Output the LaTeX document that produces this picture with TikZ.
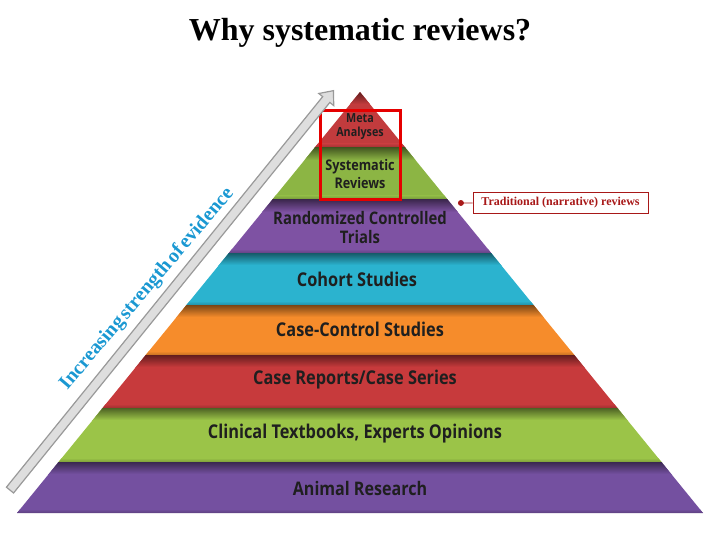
\documentclass[tikz,border=0pt]{standalone}
\usepackage{fontspec}
\setmainfont{Liberation Serif}
\newfontfamily\pyrfont{Open Sans}[FakeStretch=0.86]
\newfontfamily\evfont{Liberation Serif}[WordSpace=0.5]
\usetikzlibrary{arrows,shapes.arrows,positioning}
\definecolor{metared}{HTML}{C23B3D}
\definecolor{sysgreen}{HTML}{8CB544}
\definecolor{rctpurple}{HTML}{7E52A3}
\definecolor{cohortteal}{HTML}{2BB3CF}
\definecolor{ccorange}{HTML}{F68C2B}
\definecolor{casered}{HTML}{C73A3C}
\definecolor{clingreen}{HTML}{9BC448}
\definecolor{animalpurple}{HTML}{7450A0}
\definecolor{evblue}{HTML}{1A98D2}
\definecolor{tradred}{HTML}{A81818}
\begin{document}
\begin{tikzpicture}[x=1pt,y=-1pt,>=stealth',
    band label/.style={font=\pyrfont\bfseries\fontsize{19}{21}\selectfont,text=black!88,align=center},
    trad box/.style={draw=tradred,line width=0.8pt,text=tradred,inner sep=1pt,
                     font=\bfseries\fontsize{12}{14}\selectfont,minimum width=175pt,minimum height=21pt},
    fat arrow/.style={single arrow,draw=black!40,fill=black!13,line width=1.2pt,inner sep=4pt,
                      single arrow head extend=5pt,single arrow tip angle=80}]
  \useasboundingbox (0,0) rectangle (720,540);
  \node[font=\bfseries\fontsize{32}{36}\selectfont] (title) at (360,33) {Why systematic reviews?};
  \begin{scope}
    \clip (360,92) -- (703,513) -- (17,513) -- cycle;
    \foreach \ya/\yb/\col in {92/148/metared,148/200/sysgreen,200/253/rctpurple,253/305/cohortteal,
                              305/355/ccorange,355/408/casered,408/462/clingreen,462/513/animalpurple}{
      \fill[\col] (0,\ya) rectangle (720,\yb);
      \shade[top color=\col!50!black,bottom color=\col] (0,\ya) rectangle (720,\ya+12);
      \shade[top color=\col,bottom color=\col!80!black] (0,\yb-4) rectangle (720,\yb);
    }
  \end{scope}
  \node[band label,font=\pyrfont\bfseries\fontsize{12.5}{14}\selectfont] (meta) at (360,127) {Meta\\Analyses};
  \node[band label,font=\pyrfont\bfseries\fontsize{14.7}{18}\selectfont] (sr) at (360,174) {Systematic\\Reviews};
  \node[band label,font=\pyrfont\bfseries\fontsize{17.3}{19}\selectfont] (rct) at (360,228) {Randomized Controlled\\Trials};
  \node[band label] (cohort) at (357,279) {Cohort Studies};
  \node[band label] (cc) at (360,329) {Case-Control Studies};
  \node[band label] (cases) at (355,380) {Case Reports/Case Series};
  \node[band label] (clin) at (355,434) {Clinical Textbooks, Experts Opinions};
  \node[band label,font=\pyrfont\bfseries\fontsize{18.7}{21}\selectfont] (animal) at (360,488) {Animal Research};
  \node[draw=red!90!black,line width=3pt,minimum width=80pt,minimum height=89pt] (hl) at (360,155.5) {};
  \node[fat arrow,minimum height=514pt,rotate=51] (arrow) at (170,292.5) {};
  \node[text=evblue,rotate=49.7,font=\evfont\bfseries\fontsize{20}{24}\selectfont] (evidence) at (147,289)
    {Increasing strength of evidence};
  \coordinate (trad dot) at (458,203);
  \node[trad box] (trad) at (560.5,202.5) {Traditional (narrative) reviews};
  \path[tradred,line width=0.8pt] (trad dot) edge[*-] (trad);
\end{tikzpicture}
\end{document}
